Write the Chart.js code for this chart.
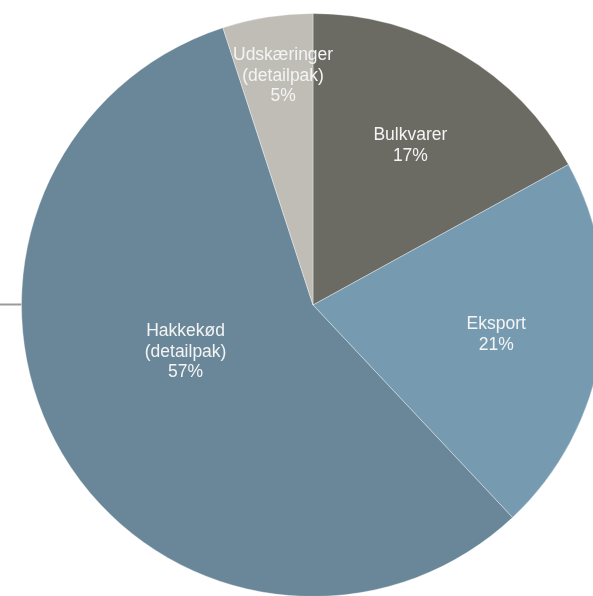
<!DOCTYPE html>
<html>
<head>
<meta charset="utf-8">
<script src="https://cdn.jsdelivr.net/npm/chart.js@4/dist/chart.umd.min.js"></script>
<style>
  html, body { margin: 0; padding: 0; background: #fff; overflow: hidden; }
  #wrap { width: 593px; height: 596px; overflow: hidden; }
  canvas { display: block; }
</style>
</head>
<body>
<div id="wrap"><canvas id="pieChart" width="626" height="610"></canvas></div>
<script>
// Andel af salg pr. kanal (%)
const labels = [['Bulkvarer'], ['Eksport'], ['Hakkekød', '(detailpak)'], ['Udskæringer', '(detailpak)']];
const shares = [17, 21, 57, 5];
const colors = ['#6b6b64', '#769bb1', '#6a8799', '#bfbdb5'];

// where each label sits: fraction of radius and nudge (deg) from slice middle
const labelSpot = [
    { r: 0.645, turn: 0.6 },
    { r: 0.636, turn: -0.2 },
    { r: 0.464, turn: 11.0 },
    { r: 0.797, turn: 1.6 }
];

const sliceLabels = {
    id: 'sliceLabels',
    beforeDatasetsDraw(chart) {
        // short grey tick on the left edge
        const ctx = chart.ctx;
        const arc = chart.getDatasetMeta(0).data[0];
        ctx.save();
        ctx.strokeStyle = '#9a9a9a';
        ctx.lineWidth = 2;
        ctx.beginPath();
        ctx.moveTo(0, arc.y - 0.5);
        ctx.lineTo(arc.x - arc.outerRadius, arc.y - 0.5);
        ctx.stroke();
        ctx.restore();
    },
    afterDatasetsDraw(chart) {
        const ctx = chart.ctx;
        const meta = chart.getDatasetMeta(0);
        ctx.save();
        ctx.font = '17.5px "Liberation Sans", Arial, sans-serif';
        ctx.fillStyle = '#f4f4f4';
        ctx.textAlign = 'center';
        ctx.textBaseline = 'middle';
        const lineH = 20.5;
        meta.data.forEach((arc, i) => {
            const spot = labelSpot[i];
            const mid = (arc.startAngle + arc.endAngle) / 2 + spot.turn * Math.PI / 180;
            const x = arc.x + Math.cos(mid) * arc.outerRadius * spot.r;
            const y = arc.y + Math.sin(mid) * arc.outerRadius * spot.r + 1.5;
            const lines = labels[i].concat([shares[i] + '%']);
            const top = y - (lines.length - 1) * lineH / 2;
            lines.forEach((txt, k) => ctx.fillText(txt, x, top + k * lineH));
        });
        ctx.restore();
    }
};

new Chart(document.getElementById('pieChart'), {
    type: 'pie',
    data: {
        labels: labels.map(l => l.join(' ')),
        datasets: [{
            data: shares,
            backgroundColor: colors,
            borderColor: 'rgba(255,255,255,0.35)',
            borderWidth: 1
        }]
    },
    options: {
        responsive: false,
        animation: false,
        layout: { padding: { top: 13, bottom: 13, left: 21, right: 21 } },
        plugins: {
            legend: { display: false },
            tooltip: { enabled: false }
        }
    },
    plugins: [sliceLabels]
});
</script>
</body>
</html>
